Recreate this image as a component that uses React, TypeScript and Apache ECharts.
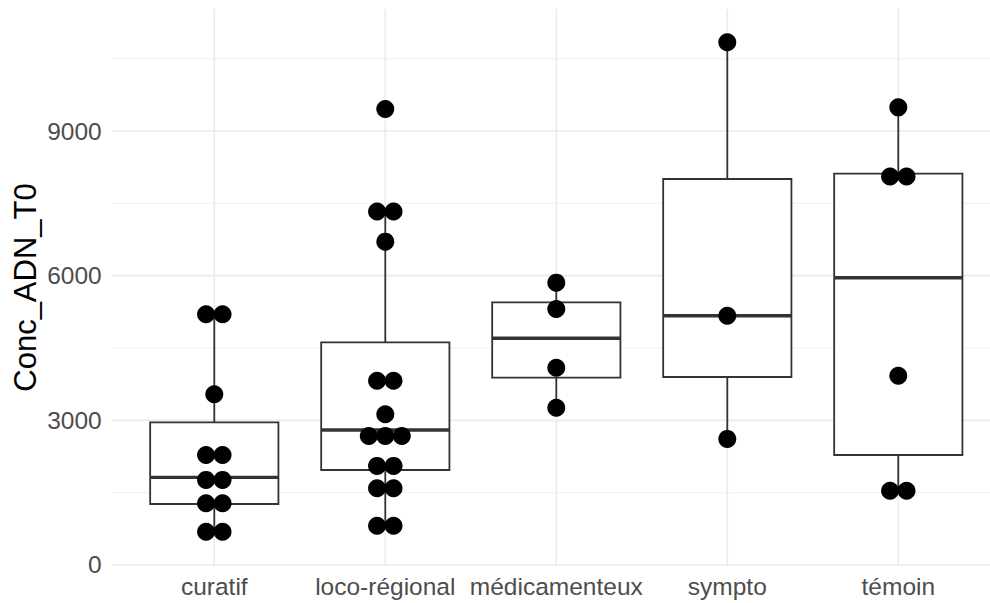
import React, { useEffect, useRef } from 'react';
import * as echarts from 'echarts';

const CATEGORIES = ['curatif', 'loco-régional', 'médicamenteux', 'sympto', 'témoin'];
const Y_TICKS = [0, 3000, 6000, 9000];
const Y_MINOR = [1500, 4500, 7500, 10500];
const Y_MIN = -25;
const Y_MAX = 11530;

// dot-plot bin positions (one entry per dot)
const CURATIF_DOTS = [5200, 5200, 3540, 2280, 2280, 1765, 1765, 1280, 1280, 690, 690];
const LOCO_DOTS = [9455, 7330, 7330, 6705, 3820, 3820, 3125, 2675, 2675, 2675, 2055, 2055, 1590, 1590, 815, 815];
const MEDIC_DOTS = [5855, 5310, 4090, 3260];
const SYMPTO_DOTS = [10840, 5170, 2615];
const TEMOIN_DOTS = [9490, 8055, 8055, 3925, 1540, 1540];

// box stats: [lower whisker, Q1, median, Q3, upper whisker]
const CURATIF_BOX = [690, 1265, 1818, 2959, 5200];
const LOCO_BOX = [815, 1970, 2800, 4618, 7330];
const MEDIC_BOX = [3260, 3885, 4701, 5447, 5855];
const SYMPTO_BOX = [2615, 3899, 5170, 8005, 10840];
const TEMOIN_BOX = [1540, 2281, 5958, 8115, 9490];

const ALL_DOTS = [CURATIF_DOTS, LOCO_DOTS, MEDIC_DOTS, SYMPTO_DOTS, TEMOIN_DOTS];
const ALL_BOXES = [CURATIF_BOX, LOCO_BOX, MEDIC_BOX, SYMPTO_BOX, TEMOIN_BOX];

const FONT = '"Liberation Sans", Arial, Helvetica, sans-serif';
const DOT_STEP = 0.0965;
const BOX_WIDTH = 0.75;

export default function App() {
  const ref = useRef<HTMLDivElement>(null);
  useEffect(() => {
    const chart = echarts.init(ref.current as HTMLDivElement, null, { renderer: 'svg' });

    const dotData: number[][] = [];
    ALL_DOTS.forEach((vals, gi) => {
      const counts = new Map<number, number>();
      vals.forEach((v) => counts.set(v, (counts.get(v) || 0) + 1));
      counts.forEach((n, v) => {
        for (let k = 0; k < n; k++) {
          dotData.push([gi + 1 + (k - (n - 1) / 2) * DOT_STEP, v]);
        }
      });
    });

    const boxData = ALL_BOXES.map((b, i) => [i + 1, ...b]);

    const option: any = {
      animation: false,
      backgroundColor: '#ffffff',
      grid: {
        left: 111.7,
        top: 9,
        width: 889.2,
        height: 557.2,
        containLabel: false,
        outerBoundsMode: 'none',
      },
      xAxis: {
        type: 'value',
        min: 0.4,
        max: 5.6,
        axisLine: { show: false },
        axisTick: { show: false, customValues: [1, 2, 3, 4, 5] },
        splitLine: { show: false },
        axisLabel: {
          customValues: [1, 2, 3, 4, 5],
          formatter: (v: number) => CATEGORIES[Math.round(v) - 1] ?? '',
          color: '#4D4D4D',
          fontSize: 24.5,
          fontFamily: FONT,
          margin: 8,
        },
      },
      yAxis: {
        type: 'value',
        min: Y_MIN,
        max: Y_MAX,
        axisLine: { show: false },
        axisTick: { show: false, customValues: Y_TICKS },
        splitLine: { show: false },
        axisLabel: {
          customValues: Y_TICKS,
          formatter: (v: number) => String(Math.round(v)),
          color: '#4D4D4D',
          fontSize: 24.5,
          fontFamily: FONT,
          margin: 10,
        },
      },
      graphic: [
        {
          type: 'text',
          x: 25,
          y: 287.5,
          rotation: Math.PI / 2,
          style: {
            text: 'Conc_ADN_T0',
            fill: '#000000',
            font: `31px ${FONT}`,
            align: 'center',
            verticalAlign: 'middle',
          },
        },
      ],
      series: [
        {
          type: 'custom',
          name: 'hgrid',
          z: 1,
          silent: true,
          data: [...Y_MINOR.map((v) => [1, v, 0]), ...Y_TICKS.map((v) => [1, v, 1])],
          encode: { x: 0, y: 1 },
          renderItem: (params: any, api: any) => {
            const cs = params.coordSys;
            const y = api.coord([1, api.value(1)])[1];
            const major = api.value(2) === 1;
            return {
              type: 'line',
              shape: { x1: cs.x, y1: y, x2: cs.x + cs.width, y2: y },
              style: { stroke: major ? '#EBEBEB' : '#F2F2F2', lineWidth: major ? 1.6 : 1.1 },
            };
          },
        },
        {
          type: 'custom',
          name: 'vgrid',
          z: 1,
          silent: true,
          data: CATEGORIES.map((_, i) => [i + 1, 0]),
          encode: { x: 0, y: 1 },
          renderItem: (params: any, api: any) => {
            const cs = params.coordSys;
            const x = api.coord([api.value(0), 0])[0];
            return {
              type: 'line',
              shape: { x1: x, y1: cs.y, x2: x, y2: cs.y + cs.height },
              style: { stroke: '#EBEBEB', lineWidth: 1.6 },
            };
          },
        },
        {
          type: 'custom',
          name: 'boxes',
          z: 2,
          silent: true,
          data: boxData,
          encode: { x: 0, y: [1, 2, 3, 4, 5] },
          renderItem: (params: any, api: any) => {
            const x = api.value(0);
            const lo = api.coord([x, api.value(1)]);
            const q1 = api.coord([x, api.value(2)]);
            const md = api.coord([x, api.value(3)]);
            const q3 = api.coord([x, api.value(4)]);
            const hi = api.coord([x, api.value(5)]);
            const halfW = api.size([BOX_WIDTH, 0])[0] / 2;
            const stroke = '#333333';
            return {
              type: 'group',
              children: [
                {
                  type: 'line',
                  shape: { x1: lo[0], y1: lo[1], x2: q1[0], y2: q1[1] },
                  style: { stroke, lineWidth: 1.8 },
                },
                {
                  type: 'line',
                  shape: { x1: q3[0], y1: q3[1], x2: hi[0], y2: hi[1] },
                  style: { stroke, lineWidth: 1.8 },
                },
                {
                  type: 'rect',
                  shape: { x: q3[0] - halfW, y: q3[1], width: 2 * halfW, height: q1[1] - q3[1] },
                  style: { fill: '#ffffff', stroke, lineWidth: 1.8 },
                },
                {
                  type: 'line',
                  shape: { x1: md[0] - halfW, y1: md[1], x2: md[0] + halfW, y2: md[1] },
                  style: { stroke, lineWidth: 3.4 },
                },
              ],
            };
          },
        },
        {
          type: 'scatter',
          name: 'dots',
          z: 3,
          silent: true,
          symbol: 'circle',
          symbolSize: 18,
          itemStyle: { color: '#000000', opacity: 1 },
          data: dotData,
        },
      ],
    };

    chart.setOption(option);
    return () => chart.dispose();
  }, []);

  return (
    <div
      ref={ref}
      style={{ position: 'fixed', left: 0, top: 0, width: 990, height: 603, background: '#ffffff' }}
    />
  );
}
